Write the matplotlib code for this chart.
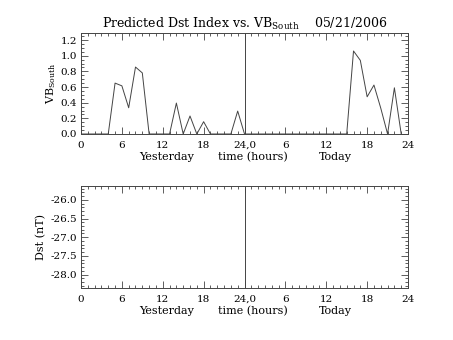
import numpy as np
import matplotlib.pyplot as plt
from matplotlib.ticker import MultipleLocator, FormatStrFormatter

plt.rcParams['font.family'] = ['DejaVu Serif']
plt.rcParams['mathtext.fontset'] = 'dejavuserif'

# hourly VB_south, yesterday 0h through today 23h
hours = np.arange(0, 48)
vbs = [0, 0, 0, 0, 0, 0.65, 0.615, 0.335, 0.855, 0.78,
       0, 0, 0, 0, 0.395, 0, 0.23, 0, 0.157, 0,
       0, 0, 0, 0.293, 0, 0, 0, 0, 0, 0,
       0, 0, 0, 0, 0, 0, 0, 0, 0, 0,
       1.06, 0.94, 0.475, 0.625, 0.33, 0, 0.59, 0]

xticks = [0, 6, 12, 18, 24, 30, 36, 42, 48]
xlabels = ['0', '6', '12', '18', '24,0', '6', '12', '18', '24']
# axis captions and their centre hour
captions = ['Yesterday', 'time (hours)', 'Today']
caption_x = [12.5, 25.3, 37.3]
date = '05/21/2006'

fig = plt.figure(figsize=(4.53, 3.40), dpi=100)
ax1 = fig.add_axes([0.1788, 0.6059, 0.7219, 0.2971])
ax2 = fig.add_axes([0.1788, 0.1529, 0.7219, 0.3000])

lc = '#444444'
for ax in (ax1, ax2):
    ax.set_xlim(0, 48)
    ax.set_xticks(xticks)
    ax.set_xticklabels(xlabels)
    ax.xaxis.set_minor_locator(MultipleLocator(1))
    ax.tick_params(which='both', direction='in', top=True, right=True,
                   labelsize=7.5, color=lc, width=0.6)
    ax.tick_params(axis='x', pad=5)
    ax.tick_params(axis='y', pad=3)
    ax.tick_params(which='major', length=5)
    ax.tick_params(which='minor', length=2.5)
    for s in ax.spines.values():
        s.set_color(lc)
        s.set_linewidth(0.7)
    ax.axvline(24, color=lc, lw=0.7)
    for cap, cx in zip(captions, caption_x):
        ax.annotate(cap, xy=(cx, 0), xycoords=('data', 'axes fraction'),
                    xytext=(0, -23), textcoords='offset pixels',
                    ha='center', va='center', fontsize=8)

ax1.plot(hours, vbs, color=lc, lw=0.7)
ax1.set_ylim(0, 1.29)
ax1.yaxis.set_major_locator(MultipleLocator(0.2))
ax1.yaxis.set_minor_locator(MultipleLocator(0.05))
ax1.yaxis.set_major_formatter(FormatStrFormatter('%.1f'))
ax1.set_ylabel(r'VB$_{\mathrm{South}}$', fontsize=8, labelpad=2)
ax1.set_title(r'Predicted Dst Index vs. VB$_{\mathrm{South}}$    ' + date,
              fontsize=9, pad=4)

ax2.set_ylim(-28.36, -25.63)
ax2.yaxis.set_major_locator(MultipleLocator(0.5))
ax2.yaxis.set_minor_locator(MultipleLocator(0.1))
ax2.yaxis.set_major_formatter(FormatStrFormatter('%.1f'))
ax2.set_ylabel('Dst (nT)', fontsize=8, labelpad=3)

fig.savefig('out.png', dpi=100)
